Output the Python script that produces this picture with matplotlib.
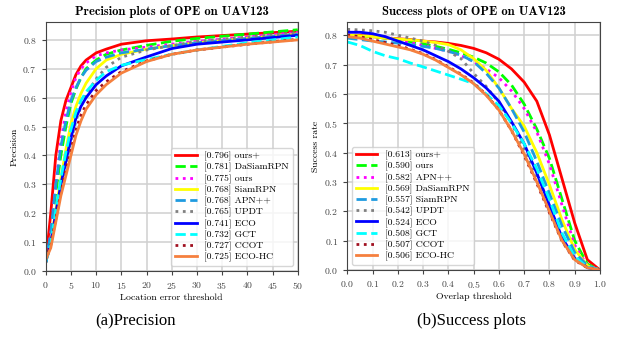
import numpy as np
import matplotlib
matplotlib.use("Agg")
import matplotlib.pyplot as plt

# precision plot (location error threshold)
prec_x = [0, 1, 2, 3, 4, 5, 6, 7, 8, 10, 12, 15, 20, 25, 30, 40, 50]
prec = {
    "ours+":     [0.03, 0.20, 0.40, 0.52, 0.59, 0.635, 0.68, 0.71, 0.73, 0.755, 0.768, 0.785, 0.797, 0.803, 0.81, 0.82, 0.83],
    "DaSiamRPN": [0.03, 0.12, 0.27, 0.40, 0.50, 0.58, 0.63, 0.67, 0.70, 0.73, 0.75, 0.765, 0.781, 0.795, 0.805, 0.82, 0.835],
    "ours":      [0.03, 0.13, 0.30, 0.45, 0.55, 0.62, 0.67, 0.70, 0.72, 0.745, 0.755, 0.765, 0.775, 0.785, 0.795, 0.81, 0.826],
    "SiamRPN":   [0.03, 0.10, 0.21, 0.32, 0.42, 0.51, 0.57, 0.615, 0.65, 0.70, 0.73, 0.75, 0.768, 0.78, 0.79, 0.805, 0.82],
    "APN++":     [0.03, 0.13, 0.30, 0.43, 0.52, 0.59, 0.635, 0.67, 0.695, 0.725, 0.74, 0.755, 0.768, 0.78, 0.79, 0.805, 0.82],
    "UPDT":      [0.03, 0.09, 0.18, 0.28, 0.37, 0.45, 0.52, 0.57, 0.61, 0.665, 0.705, 0.74, 0.765, 0.78, 0.795, 0.81, 0.825],
    "ECO":       [0.03, 0.10, 0.20, 0.30, 0.38, 0.46, 0.53, 0.57, 0.60, 0.645, 0.675, 0.71, 0.741, 0.77, 0.785, 0.80, 0.816],
    "GCT":       [0.03, 0.10, 0.21, 0.32, 0.41, 0.49, 0.55, 0.59, 0.62, 0.66, 0.69, 0.712, 0.732, 0.75, 0.765, 0.79, 0.81],
    "CCOT":      [0.04, 0.09, 0.18, 0.27, 0.35, 0.42, 0.49, 0.54, 0.575, 0.625, 0.655, 0.69, 0.727, 0.75, 0.765, 0.785, 0.802],
    "ECO-HC":    [0.04, 0.08, 0.17, 0.26, 0.33, 0.40, 0.47, 0.52, 0.56, 0.61, 0.645, 0.685, 0.725, 0.75, 0.765, 0.785, 0.80],
}
prec_score = {"ours+": 0.796, "DaSiamRPN": 0.781, "ours": 0.775, "SiamRPN": 0.768, "APN++": 0.768,
              "UPDT": 0.765, "ECO": 0.741, "GCT": 0.732, "CCOT": 0.727, "ECO-HC": 0.725}

# success plot (overlap threshold)
succ_x = [0.0, 0.05, 0.1, 0.15, 0.2, 0.25, 0.3, 0.35, 0.4, 0.45, 0.5,
          0.55, 0.6, 0.65, 0.7, 0.75, 0.8, 0.85, 0.9, 0.95, 1.0]
succ = {
    "ours+":     [0.80, 0.80, 0.795, 0.79, 0.788, 0.785, 0.78, 0.777, 0.772, 0.765, 0.755, 0.74, 0.718, 0.685, 0.64, 0.575, 0.46, 0.31, 0.16, 0.035, 0.0],
    "ours":      [0.80, 0.798, 0.795, 0.79, 0.785, 0.778, 0.77, 0.762, 0.752, 0.74, 0.725, 0.705, 0.675, 0.63, 0.565, 0.48, 0.38, 0.24, 0.10, 0.02, 0.0],
    "APN++":     [0.815, 0.81, 0.80, 0.795, 0.785, 0.775, 0.765, 0.755, 0.745, 0.73, 0.71, 0.685, 0.655, 0.61, 0.55, 0.47, 0.36, 0.22, 0.085, 0.015, 0.0],
    "DaSiamRPN": [0.80, 0.798, 0.795, 0.79, 0.787, 0.784, 0.78, 0.775, 0.768, 0.75, 0.72, 0.68, 0.62, 0.55, 0.49, 0.40, 0.29, 0.17, 0.07, 0.015, 0.0],
    "SiamRPN":   [0.79, 0.785, 0.78, 0.777, 0.773, 0.768, 0.762, 0.755, 0.745, 0.732, 0.71, 0.67, 0.62, 0.55, 0.47, 0.37, 0.26, 0.15, 0.06, 0.015, 0.0],
    "UPDT":      [0.82, 0.818, 0.815, 0.81, 0.80, 0.79, 0.78, 0.765, 0.745, 0.72, 0.67, 0.625, 0.57, 0.50, 0.41, 0.31, 0.20, 0.10, 0.035, 0.01, 0.0],
    "ECO":       [0.81, 0.81, 0.805, 0.795, 0.78, 0.765, 0.75, 0.73, 0.71, 0.685, 0.655, 0.62, 0.575, 0.505, 0.43, 0.33, 0.22, 0.11, 0.04, 0.008, 0.0],
    "GCT":       [0.777, 0.765, 0.745, 0.73, 0.72, 0.705, 0.692, 0.678, 0.664, 0.65, 0.635, 0.60, 0.56, 0.50, 0.43, 0.345, 0.24, 0.125, 0.045, 0.01, 0.0],
    "CCOT":      [0.80, 0.795, 0.785, 0.775, 0.765, 0.752, 0.737, 0.717, 0.692, 0.667, 0.637, 0.597, 0.545, 0.475, 0.39, 0.295, 0.195, 0.098, 0.033, 0.008, 0.0],
    "ECO-HC":    [0.795, 0.79, 0.78, 0.77, 0.76, 0.75, 0.735, 0.715, 0.69, 0.665, 0.635, 0.595, 0.545, 0.475, 0.395, 0.30, 0.20, 0.10, 0.035, 0.008, 0.0],
}
succ_score = {"ours+": 0.613, "ours": 0.590, "APN++": 0.582, "DaSiamRPN": 0.569, "SiamRPN": 0.557,
              "UPDT": 0.542, "ECO": 0.524, "GCT": 0.508, "CCOT": 0.507, "ECO-HC": 0.506}

# style by legend rank (same in both plots)
rank_styles = [
    ("#ff0000", "-"), ("#00ff00", "--"), ("#ff00ff", ":"), ("#ffff00", "-"), ("#1f9be0", "--"),
    ("#808080", ":"), ("#0000ff", "-"), ("#00ffff", "--"), ("#a01020", ":"), ("#f5803e", "-"),
]

plt.rcParams["font.family"] = "cmr10"
plt.rcParams["axes.formatter.use_mathtext"] = True

fig = plt.figure(figsize=(6.29, 3.37), dpi=100)
ax1 = fig.add_axes([0.0727, 0.1958, 0.4006, 0.739])
ax2 = fig.add_axes([0.5521, 0.1988, 0.4018, 0.736])


def draw(ax, xs, curves, scores):
    for i, name in enumerate(curves):
        color, ls = rank_styles[i]
        ax.plot(xs, curves[name], color=color, linestyle=ls, linewidth=2,
                label="[%.3f] %s" % (scores[name], name))
    ax.grid(True, color="#d0d0d0", linewidth=1.1)
    ax.set_axisbelow(True)
    for s in ax.spines.values():
        s.set_color("#444444")
    ax.tick_params(labelsize=7, colors="#444444", length=3)


draw(ax1, prec_x, prec, prec_score)
ax1.set_xlim(0, 50)
ax1.set_ylim(0, 0.862)
ax1.set_xticks(np.arange(0, 51, 5))
ax1.set_yticks(np.arange(0, 0.81, 0.1))
ax1.set_title("Precision plots of OPE on UAV123", fontsize=9, family="cmb10", pad=5)
ax1.set_xlabel("Location error threshold", fontsize=7, labelpad=2)
ax1.set_ylabel("Precision", fontsize=7, labelpad=3)
ax1.legend(loc="lower right", fontsize=7, labelspacing=0.18, handlelength=2.2,
           borderpad=0.4, framealpha=0.8, edgecolor="#cccccc")

draw(ax2, succ_x, succ, succ_score)
ax2.set_xlim(0, 1)
ax2.set_ylim(0, 0.845)
ax2.set_xticks(np.arange(0, 1.01, 0.1))
ax2.set_yticks(np.arange(0, 0.81, 0.1))
ax2.set_title("Success plots of OPE on UAV123", fontsize=9, family="cmb10", pad=5)
ax2.set_xlabel("Overlap threshold", fontsize=7, labelpad=2)
ax2.set_ylabel("Success rate", fontsize=7, labelpad=3)
ax2.legend(loc="lower left", fontsize=7, labelspacing=0.18, handlelength=2.2,
           borderpad=0.4, framealpha=0.8, edgecolor="#cccccc")

fig.text(0.215, 0.035, "(a)Precision", fontsize=12, family="Liberation Serif", ha="center")
fig.text(0.75, 0.035, "(b)Success plots", fontsize=12, family="Liberation Serif", ha="center")

fig.savefig("out.png", dpi=100)
